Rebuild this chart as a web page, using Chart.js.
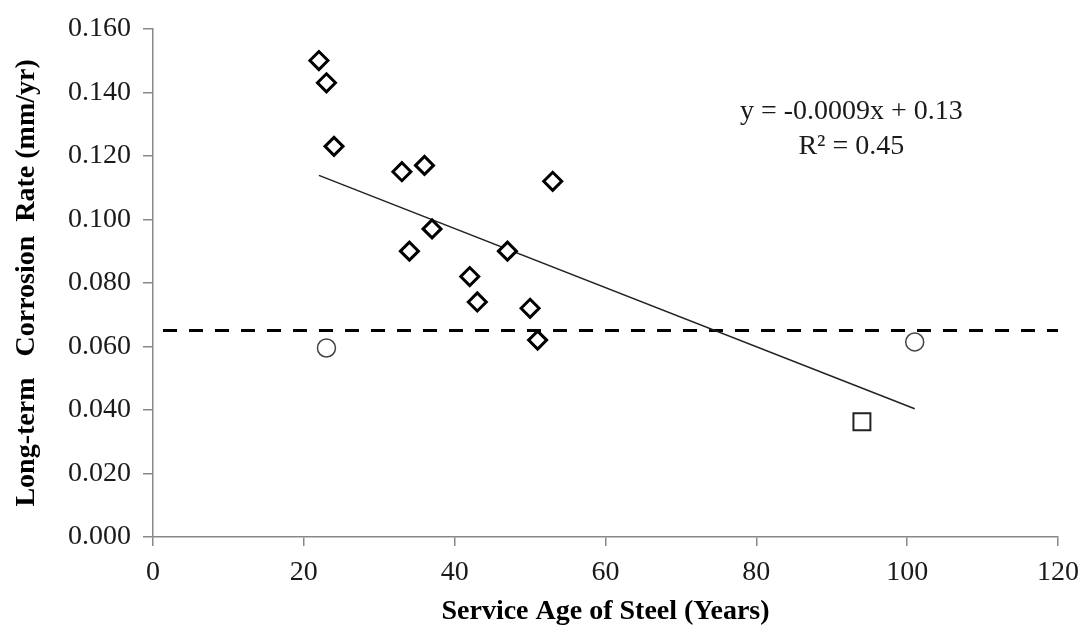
<!DOCTYPE html>
<html>
<head>
<meta charset="utf-8">
<script src="https://cdn.jsdelivr.net/npm/chart.js@4.4.1/dist/chart.umd.min.js"></script>
<style>
  html, body { margin: 0; padding: 0; background: #fff; }
  #wrap { width: 1089px; height: 633px; position: relative; }
</style>
</head>
<body>
<div id="wrap"><canvas id="ageChart"></canvas></div>
<script>
// Service age of steel (years) vs. long-term corrosion rate (mm/yr)
const diamondAge  = [22, 23, 24, 33, 36, 34, 37, 42, 43, 47, 53, 50, 51];
const diamondRate = [0.150, 0.143, 0.123, 0.115, 0.117, 0.090, 0.097, 0.082, 0.074, 0.090, 0.112, 0.072, 0.062];
const circleAge   = [23, 101];
const circleRate  = [0.0595, 0.0614];
const squareAge   = [94];
const squareRate  = [0.0363];

// linear fit drawn across the sampled ages
const trendSlope = -0.00093;
const trendIntercept = 0.1343;
const trendAges = [22, 101];
const trendLabel = ['y = -0.0009x + 0.13', 'R\u00b2 = 0.45'];

// dashed reference rate
const thresholdRate = 0.065;

const xTicks = { min: 0, max: 120, step: 20 };
const yTicks = { min: 0, max: 0.16, step: 0.02 };

const serif = '"Liberation Serif", "Times New Roman", serif';
const toPoints = (xs, ys) => xs.map((x, i) => ({ x: x, y: ys[i] }));

// equation text beside the fit line
const trendText = {
  id: 'trendText',
  afterDatasetsDraw(chart) {
    const { ctx, scales: { x, y } } = chart;
    ctx.save();
    ctx.font = '28px ' + serif;
    ctx.fillStyle = '#1a1a1a';
    ctx.textAlign = 'center';
    ctx.textBaseline = 'middle';
    const cx = x.getPixelForValue(92.6);
    ctx.fillText(trendLabel[0], cx, y.getPixelForValue(0.134));
    ctx.fillText(trendLabel[1], cx, y.getPixelForValue(0.123));
    ctx.restore();
  }
};

new Chart(document.getElementById('ageChart'), {
  type: 'scatter',
  data: {
    datasets: [
      {
        data: toPoints(diamondAge, diamondRate),
        pointStyle: 'rectRot',
        pointRadius: 9,
        pointBorderWidth: 3,
        pointBorderColor: '#000',
        pointBackgroundColor: '#fff',
        order: 1
      },
      {
        data: toPoints(circleAge, circleRate),
        pointStyle: 'circle',
        pointRadius: 9,
        pointBorderWidth: 1.5,
        pointBorderColor: '#444',
        pointBackgroundColor: '#fff',
        order: 1
      },
      {
        data: toPoints(squareAge, squareRate),
        pointStyle: 'rect',
        pointRadius: 12,
        pointBorderWidth: 2,
        pointBorderColor: '#222',
        pointBackgroundColor: '#fff',
        order: 1
      },
      {
        type: 'line',
        data: trendAges.map(a => ({ x: a, y: trendIntercept + trendSlope * a })),
        borderColor: '#222',
        borderWidth: 1.5,
        pointRadius: 0,
        order: 2
      },
      {
        type: 'line',
        data: [{ x: xTicks.min, y: thresholdRate }, { x: xTicks.max, y: thresholdRate }],
        borderColor: '#000',
        borderWidth: 3,
        borderDash: [14, 12],
        borderDashOffset: -10,
        pointRadius: 0,
        order: 3
      }
    ]
  },
  options: {
    responsive: true,
    maintainAspectRatio: false,
    animation: false,
    layout: { padding: { top: 26, right: 26, left: 0, bottom: 0 } },
    plugins: {
      legend: { display: false },
      tooltip: { enabled: false }
    },
    scales: {
      x: {
        type: 'linear',
        min: xTicks.min,
        max: xTicks.max,
        afterFit: s => { s.height = 96; },
        ticks: {
          stepSize: xTicks.step,
          color: '#1a1a1a',
          padding: 10,
          font: { family: serif, size: 28 }
        },
        grid: { drawOnChartArea: false, drawTicks: true, tickLength: 9, color: '#888', lineWidth: 1.5 },
        border: { color: '#888', width: 1.5 },
        title: {
          display: true,
          text: 'Service Age of Steel (Years)',
          color: '#000',
          font: { family: serif, size: 28, weight: 'bold' },
          padding: { top: 0, bottom: 4 }
        }
      },
      y: {
        type: 'linear',
        min: yTicks.min,
        max: yTicks.max,
        afterFit: s => { s.width = 153; },
        ticks: {
          stepSize: yTicks.step,
          color: '#1a1a1a',
          padding: 12,
          font: { family: serif, size: 28 },
          callback: v => v.toFixed(3)
        },
        grid: { drawOnChartArea: false, drawTicks: true, tickLength: 10, color: '#888', lineWidth: 1.5 },
        border: { color: '#888', width: 1.5 },
        title: {
          display: true,
          text: 'Long-term\u00a0\u00a0 Corrosion\u00a0 Rate (mm/yr)',
          color: '#000',
          font: { family: serif, size: 28, weight: 'bold' },
          padding: { top: 10, bottom: 0 }
        }
      }
    }
  },
  plugins: [trendText]
});
</script>
</body>
</html>
